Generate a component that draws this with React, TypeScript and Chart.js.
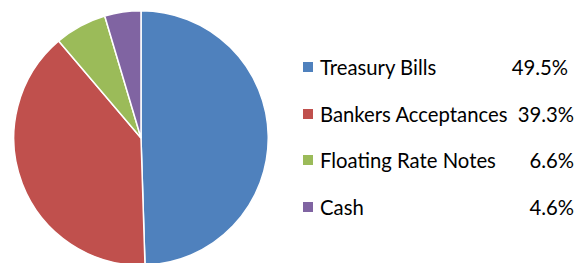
import React, { useEffect, useRef } from "react";
import { Chart, registerables } from "chart.js";

Chart.register(...registerables);

const categories = ["Treasury Bills", "Bankers Acceptances", "Floating Rate Notes", "Cash"];
const values = [49.5, 39.3, 6.6, 4.6];
const valueLabels = ["49.5%", "39.3%", "6.6%", "4.6%"];
const colors = ["#4F81BD", "#C0504D", "#9BBB59", "#8064A2"];

export default function App() {
  const ref = useRef<HTMLCanvasElement>(null);
  useEffect(() => {
    if (!ref.current) return;
    const chart = new Chart(ref.current, {
      type: "pie",
      data: {
        labels: categories,
        datasets: [
          {
            data: values,
            backgroundColor: colors,
            borderColor: "#ffffff",
            borderWidth: 1.5,
          },
        ],
      },
      options: {
        animation: false,
        responsive: false,
        maintainAspectRatio: false,
        layout: { padding: 0 },
        plugins: { legend: { display: false }, tooltip: { enabled: false } },
      },
    });
    return () => chart.destroy();
  }, []);

  const rowY = [67, 114, 160, 207];
  const rightPad = [6, 0, 0, 0];
  return (
    <div style={{ position: "fixed", left: 0, top: 0, width: 577, height: 263, overflow: "hidden", background: "#fff" }}>
      <canvas ref={ref} width={256} height={256} style={{ position: "absolute", left: 13, top: 10, width: 256, height: 256 }} />
      {categories.map((c, i) => (
        <div
          key={c}
          style={{
            position: "absolute",
            left: 303,
            top: rowY[i] - 14,
            width: 271,
            height: 28,
            display: "flex",
            alignItems: "center",
            fontFamily: "Lato, 'Open Sans', sans-serif",
            fontSize: 20.3,
            color: "#000",
            whiteSpace: "nowrap",
          }}
        >
          <span style={{ display: "inline-block", width: 10, height: 10, background: colors[i], marginRight: 7, flex: "none" }} />
          <span style={{ flex: 1 }}>{c}</span>
          <span style={{ paddingRight: rightPad[i] }}>{valueLabels[i]}</span>
        </div>
      ))}
    </div>
  );
}
